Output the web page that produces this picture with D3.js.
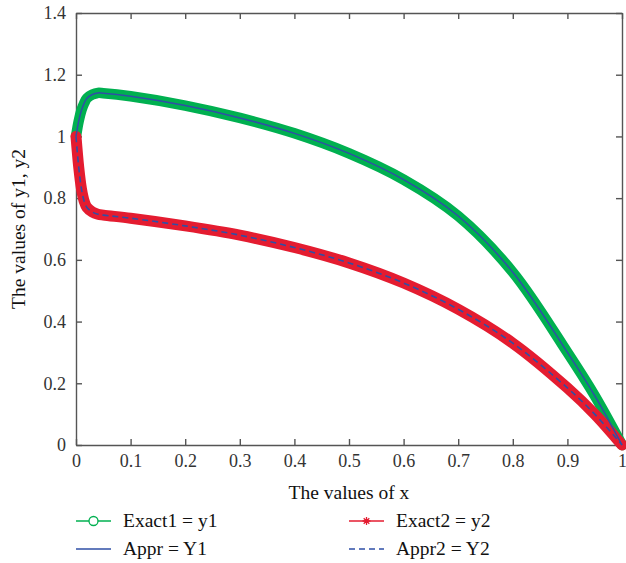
<!DOCTYPE html>
<meta charset="utf-8">
<style type="text/css">
	body { margin: 0; background: #fff; }
	svg text { font-family: "Liberation Serif", "DejaVu Serif", serif; }
	.axis path, .axis line { stroke: #555; stroke-width: 1.4; }
	.lbl { fill: #111; font-size: 19.5px; }
	.leg { fill: #111; font-size: 19.5px; }
</style>
<body>
<div id="chart"></div>
<script src="https://d3js.org/d3.v7.min.js"></script>
<script>
	// values
	const xs     = [0, 0.005, 0.01, 0.015, 0.02, 0.03, 0.04, 0.05, 0.1, 0.2, 0.3, 0.4, 0.5, 0.6, 0.7, 0.8, 0.9, 0.95, 1.0];
	const exact1 = [1.0, 1.05, 1.085, 1.108, 1.124, 1.136, 1.141, 1.14, 1.13, 1.10, 1.06, 1.01, 0.945, 0.86, 0.742, 0.56, 0.30, 0.16, 0];
	const exact2 = [1.0, 0.9, 0.83, 0.79, 0.77, 0.755, 0.748, 0.745, 0.735, 0.71, 0.68, 0.64, 0.59, 0.525, 0.44, 0.33, 0.185, 0.10, 0];
	// approximations lie on top of the exact curves
	const appr1 = exact1.slice();
	const appr2 = exact2.slice();

	const xTicks = [0, 0.1, 0.2, 0.3, 0.4, 0.5, 0.6, 0.7, 0.8, 0.9, 1];
	const yTicks = [0, 0.2, 0.4, 0.6, 0.8, 1, 1.2, 1.4];

	const width = 626, height = 563;
	const margin = { left: 76, right: 4, top: 13, bottom: 118 };

	const green = "#00b050", red = "#e41c30", blue = "#2f4fa6";

	const svg = d3.select("#chart").append("svg")
		.attr("width", width)
		.attr("height", height);

	const x = d3.scaleLinear().domain([0, 1]).range([margin.left, width - margin.right]);
	const y = d3.scaleLinear().domain([0, 1.4]).range([height - margin.bottom, margin.top]);

	const fmt = d => String(d);

	// box axes, ticks pointing inward
	const axes = [
		svg.append("g").attr("transform", `translate(0,${y(0)})`)
			.call(d3.axisBottom(x).tickValues(xTicks).tickFormat(fmt).tickSize(-6).tickSizeOuter(0).tickPadding(9)),
		svg.append("g").attr("transform", `translate(0,${y(1.4)})`)
			.call(d3.axisTop(x).tickValues(xTicks).tickFormat("").tickSize(-6).tickSizeOuter(0)),
		svg.append("g").attr("transform", `translate(${x(0)},0)`)
			.call(d3.axisLeft(y).tickValues(yTicks).tickFormat(fmt).tickSize(-6).tickSizeOuter(0).tickPadding(10)),
		svg.append("g").attr("transform", `translate(${x(1)},0)`)
			.call(d3.axisRight(y).tickValues(yTicks).tickFormat("").tickSize(-6).tickSizeOuter(0))
	];
	axes.forEach(g => {
		g.attr("class", "axis").attr("font-family", null).attr("font-size", null);
		g.selectAll("text")
			.style("font-family", "'Liberation Serif', serif")
			.style("font-size", "18px")
			.style("fill", "#333");
	});

	const line = d3.line()
		.x(d => x(d[0]))
		.y(d => y(d[1]))
		.curve(d3.curveCatmullRom.alpha(0.5));

	const pts = arr => xs.map((v, i) => [v, arr[i]]);

	// exact solutions: markers so dense they form a thick band
	svg.append("path").attr("d", line(pts(exact1)))
		.attr("fill", "none").attr("stroke", green).attr("stroke-width", 10.5)
		.attr("stroke-linejoin", "round").attr("stroke-linecap", "round");
	svg.append("path").attr("d", line(pts(exact2)))
		.attr("fill", "none").attr("stroke", red).attr("stroke-width", 11)
		.attr("stroke-linejoin", "round").attr("stroke-linecap", "round");

	// approximations
	svg.append("path").attr("d", line(pts(appr1)))
		.attr("fill", "none").attr("stroke", blue).attr("stroke-width", 1.5);
	svg.append("path").attr("d", line(pts(appr2)))
		.attr("fill", "none").attr("stroke", blue).attr("stroke-width", 1.6)
		.attr("stroke-dasharray", "6,4");

	// axis labels
	svg.append("text").attr("class", "lbl")
		.attr("x", (x(0) + x(1)) / 2).attr("y", 499)
		.attr("text-anchor", "middle")
		.text("The values of x");
	svg.append("text").attr("class", "lbl")
		.attr("transform", `translate(25,${(y(0) + y(1.4)) / 2}) rotate(-90)`)
		.attr("text-anchor", "middle")
		.text("The values of y1, y2");

	// legend
	const legend = [
		{ name: "Exact1 = y1", color: green, marker: "circle", dash: null, lx: 76, ly: 521 },
		{ name: "Exact2 = y2", color: red, marker: "star", dash: null, lx: 349, ly: 521 },
		{ name: "Appr = Y1", color: blue, marker: null, dash: null, lx: 76, ly: 549 },
		{ name: "Appr2 = Y2", color: blue, marker: null, dash: "6,4", lx: 349, ly: 549 }
	];
	const lg = svg.append("g").selectAll("g").data(legend).join("g")
		.attr("transform", d => `translate(${d.lx},${d.ly})`);
	lg.append("line")
		.attr("x1", 0).attr("x2", 35).attr("y1", 0).attr("y2", 0)
		.attr("stroke", d => d.color).attr("stroke-width", 1.5)
		.attr("stroke-dasharray", d => d.dash);
	lg.filter(d => d.marker === "circle").append("circle")
		.attr("cx", 17.5).attr("cy", 0).attr("r", 4.5)
		.attr("fill", "#fff").attr("stroke", green).attr("stroke-width", 1.3);
	lg.filter(d => d.marker === "star").append("path")
		.attr("d", "M13.5,0H21.5M17.5,-4V4M14.7,-2.8L20.3,2.8M14.7,2.8L20.3,-2.8")
		.attr("stroke", red).attr("stroke-width", 1.3);
	lg.append("text").attr("class", "leg")
		.attr("x", 47).attr("y", 6)
		.text(d => d.name);
</script>
</body>
